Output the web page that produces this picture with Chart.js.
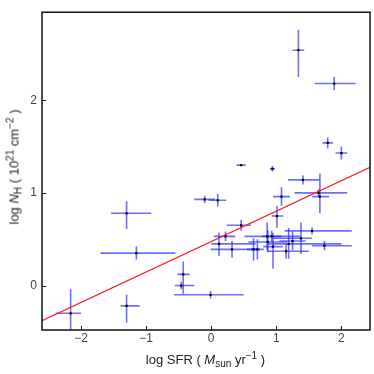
<!DOCTYPE html>
<html>
<head>
<meta charset="utf-8">
<script src="https://cdn.jsdelivr.net/npm/chart.js@4.4.1/dist/chart.umd.min.js"></script>
<style>
    html, body { margin: 0; padding: 0; background: #fff; }
    #wrap { position: relative; width: 374px; height: 374px; }
    #wrap canvas { position: absolute; left: 0; top: 0; }
    .axis-title {
        position: absolute;
        font-family: 'Liberation Sans', Arial, sans-serif;
        font-size: 13px;
        color: #222;
        white-space: nowrap;
        line-height: 16px;
    }
    .axis-title .sb { font-size: 10px; position: relative; top: 3px; }
    .axis-title .sp { font-size: 10px; position: relative; top: -5px; }
    #xTitle { left: 0; width: 411px; top: 352px; text-align: center; }
    #yTitle { left: 15px; top: 167px; transform: translate(-50%, -50%) rotate(-90deg); }
</style>
</head>
<body>
<div id="wrap">
    <canvas id="chart" width="374" height="374"></canvas>
    <div id="xTitle" class="axis-title">log SFR ( <i>M</i><span class="sb">sun</span> yr<span class="sp">−1</span> )</div>
    <div id="yTitle" class="axis-title">log <i>N</i><span class="sb">H</span> ( 10<span class="sp">21</span> cm<span class="sp">−2</span> )</div>
</div>
<script>
// ─── data (log SFR, log NH) with asymmetric errors ───
const sfr     = [-2.16, -1.30, -1.30, -1.15, -0.43, -0.46, -0.01, -0.10, 0.10, 0.46, 0.94, 1.34, 1.89, 1.79, 2.00, 1.41, 1.65, 1.67, 1.08, 1.01, 0.46, 0.22, 0.12, 0.32, 0.65, 0.71, 0.86, 0.87, 0.93, 0.95, 1.15, 1.19, 1.25, 1.38, 1.55, 1.74];
const nh      = [-0.30, -0.22, 0.78, 0.35, 0.12, 0.00, -0.10, 0.93, 0.92, 1.30, 1.26, 2.54, 2.18, 1.54, 1.43, 1.14, 1.00, 0.96, 0.96, 0.75, 0.65, 0.53, 0.45, 0.39, 0.39, 0.39, 0.53, 0.47, 0.53, 0.42, 0.37, 0.45, 0.48, 0.51, 0.59, 0.43];
const sfrErrLo = [0.23, 0.09, 0.24, 0.55, 0.09, 0.10, 0.56, 0.16, 0.14, 0.07, 0.04, 0.09, 0.30, 0.08, 0.09, 0.23, 0.37, 0.12, 0.13, 0.08, 0.22, 0.18, 0.12, 0.33, 0.10, 0.10, 0.35, 0.30, 0.15, 0.15, 0.29, 0.33, 0.20, 0.42, 0.42, 0.19];
const sfrErrHi = [0.16, 0.20, 0.38, 0.60, 0.10, 0.20, 0.51, 0.16, 0.13, 0.07, 0.04, 0.09, 0.33, 0.08, 0.09, 0.25, 0.44, 0.14, 0.13, 0.10, 0.15, 0.15, 0.56, 0.38, 0.10, 0.10, 0.51, 0.30, 0.15, 0.15, 0.35, 0.81, 0.20, 0.17, 0.61, 0.42];
const nhErrLo  = [0.26, 0.18, 0.17, 0.07, 0.21, 0.04, 0.04, 0.04, 0.07, 0.01, 0.03, 0.29, 0.07, 0.06, 0.07, 0.05, 0.04, 0.18, 0.10, 0.13, 0.06, 0.05, 0.13, 0.09, 0.12, 0.11, 0.15, 0.11, 0.06, 0.24, 0.08, 0.16, 0.10, 0.17, 0.04, 0.05];
const nhErrHi  = [0.26, 0.12, 0.13, 0.07, 0.14, 0.04, 0.04, 0.04, 0.07, 0.01, 0.03, 0.22, 0.07, 0.06, 0.07, 0.05, 0.04, 0.25, 0.10, 0.11, 0.06, 0.05, 0.12, 0.09, 0.12, 0.11, 0.15, 0.13, 0.06, 0.15, 0.08, 0.17, 0.10, 0.17, 0.04, 0.05];

// fitted relation, read at the plot edges
const fitX = [-2.60, 2.44];
const fitY = [-0.38, 1.275];

const xTickValues = [-2, -1, 0, 1, 2];
const yTickValues = [0, 1, 2];

Chart.defaults.font.family = "'Liberation Sans', Arial, sans-serif";

// ─── error bars, frame and inward ticks ───
const errorBars = {
    id: 'errorBars',
    beforeDatasetsDraw(chart) {
        const { ctx, chartArea: a, scales: { x, y } } = chart;
        ctx.save();
        ctx.beginPath();
        ctx.rect(a.left, a.top, a.right - a.left, a.bottom - a.top);
        ctx.clip();
        ctx.strokeStyle = 'rgba(30, 30, 255, 0.65)';
        ctx.lineWidth = 1.6;
        sfr.forEach((sx, i) => {
            const px = x.getPixelForValue(sx);
            const py = y.getPixelForValue(nh[i]);
            ctx.beginPath();
            ctx.moveTo(x.getPixelForValue(sx - sfrErrLo[i]), py);
            ctx.lineTo(x.getPixelForValue(sx + sfrErrHi[i]), py);
            ctx.moveTo(px, y.getPixelForValue(nh[i] - nhErrLo[i]));
            ctx.lineTo(px, y.getPixelForValue(nh[i] + nhErrHi[i]));
            ctx.stroke();
        });
        ctx.restore();
    },
    afterDraw(chart) {
        const { ctx, chartArea: a, scales: { x, y } } = chart;
        ctx.save();
        ctx.strokeStyle = '#111';
        ctx.lineWidth = 1;
        ctx.beginPath();
        xTickValues.forEach(v => {
            const px = Math.round(x.getPixelForValue(v)) + 0.5;
            ctx.moveTo(px, a.bottom);
            ctx.lineTo(px, a.bottom - 4);
        });
        yTickValues.forEach(v => {
            const py = Math.round(y.getPixelForValue(v)) + 0.5;
            ctx.moveTo(a.left, py);
            ctx.lineTo(a.left + 4, py);
        });
        ctx.stroke();
        ctx.lineWidth = 1.5;
        ctx.strokeRect(a.left, a.top, a.right - a.left, a.bottom - a.top);
        ctx.restore();
    }
};

const minus = v => String(v).replace('-', '\u2212');

new Chart(document.getElementById('chart').getContext('2d'), {
    type: 'scatter',
    data: {
        datasets: [
            {
                label: 'fit',
                data: fitX.map((v, i) => ({ x: v, y: fitY[i] })),
                showLine: true,
                borderColor: '#ff2020',
                borderWidth: 1.3,
                pointRadius: 0,
                order: 2
            },
            {
                label: 'galaxies',
                data: sfr.map((v, i) => ({ x: v, y: nh[i] })),
                pointStyle: 'rect',
                pointRadius: 1.6,
                backgroundColor: '#000',
                borderColor: '#000',
                borderWidth: 0,
                order: 1
            }
        ]
    },
    options: {
        responsive: false,
        animation: false,
        layout: { padding: { top: 4, right: 4, left: 0, bottom: 0 } },
        plugins: { legend: { display: false }, tooltip: { enabled: false } },
        scales: {
            x: {
                type: 'linear',
                min: -2.6,
                max: 2.44,
                afterBuildTicks: s => { s.ticks = xTickValues.map(v => ({ value: v })); },
                afterFit: s => { s.height = 44; },
                ticks: { callback: minus, color: '#444', font: { size: 12 }, padding: 1, maxRotation: 0 },
                grid: { drawOnChartArea: false, drawTicks: false },
                border: { display: false }
            },
            y: {
                type: 'linear',
                min: -0.48,
                max: 2.95,
                afterBuildTicks: s => { s.ticks = yTickValues.map(v => ({ value: v })); },
                afterFit: s => { s.width = 42; },
                ticks: { callback: minus, color: '#444', font: { size: 12 }, padding: 5 },
                grid: { drawOnChartArea: false, drawTicks: false },
                border: { display: false }
            }
        }
    },
    plugins: [errorBars]
});
</script>
</body>
</html>
